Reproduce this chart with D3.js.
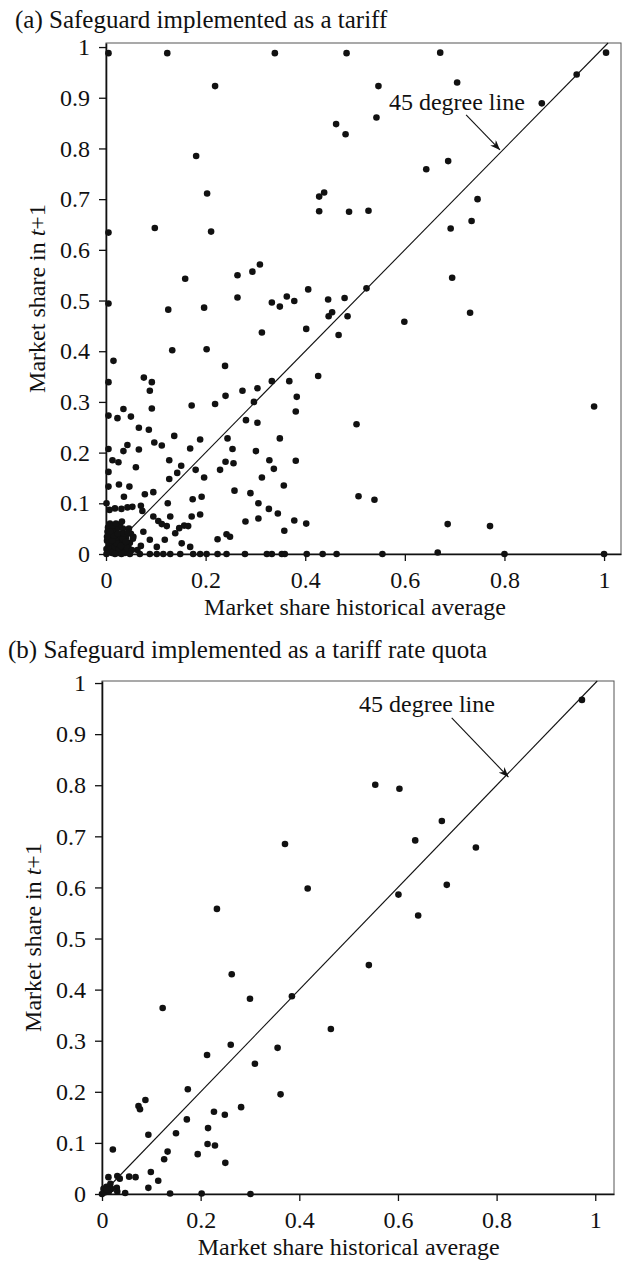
<!DOCTYPE html>
<html>
<head>
<meta charset="utf-8">
<script src="https://cdn.jsdelivr.net/npm/d3@7"></script>
<style>
  body { margin: 0; background: #fff; }
  svg { display: block; }
  svg text { font-family: "Liberation Serif", "Times New Roman", serif; }
</style>
</head>
<body>
<div id="chart"></div>
<script>
// tick values shared by both panels
const xTickValues = [0, 0.2, 0.4, 0.6, 0.8, 1];
const yTickValues = [0, 0.1, 0.2, 0.3, 0.4, 0.5, 0.6, 0.7, 0.8, 0.9, 1];

const titleA = "(a) Safeguard implemented as a tariff";
const titleB = "(b) Safeguard implemented as a tariff rate quota";
const xTitle = "Market share historical average";
const lineLabel = "45 degree line";

// (a) tariff: [historical average, share in t+1]
const tariffPoints = [
  [0.005,0.988],[0.123,0.988],[0.339,0.988],[0.483,0.988],[0.671,0.989],[1.004,0.989],
  [0.219,0.923],[0.547,0.923],[0.705,0.930],[0.945,0.946],[0.875,0.889],[0.543,0.861],
  [0.462,0.848],[0.481,0.828],[0.181,0.785],[0.643,0.759],[0.687,0.775],
  [0.203,0.711],[0.428,0.705],[0.438,0.713],[0.428,0.676],[0.488,0.675],[0.527,0.677],
  [0.746,0.700],[0.734,0.657],[0.692,0.642],[0.098,0.643],[0.211,0.636],[0.005,0.634],
  [0.159,0.543],[0.264,0.550],[0.294,0.557],[0.309,0.571],[0.406,0.522],[0.523,0.524],
  [0.695,0.545],[0.446,0.502],[0.479,0.505],[0.264,0.506],[0.333,0.496],[0.349,0.488],
  [0.363,0.508],[0.378,0.499],[0.005,0.494],[0.125,0.482],[0.197,0.486],
  [0.447,0.469],[0.454,0.477],[0.485,0.469],[0.599,0.458],[0.731,0.476],
  [0.313,0.437],[0.402,0.444],[0.467,0.432],[0.133,0.402],[0.202,0.404],
  [0.015,0.381],[0.239,0.371],[0.005,0.339],[0.076,0.348],[0.092,0.339],[0.088,0.322],
  [0.092,0.287],[0.426,0.351],[0.333,0.341],[0.368,0.341],[0.383,0.310],[0.381,0.281],
  [0.172,0.293],[0.219,0.296],[0.240,0.312],[0.274,0.322],[0.304,0.327],[0.297,0.300],
  [0.281,0.264],[0.304,0.259],[0.503,0.256],[0.980,0.291],
  [0.005,0.273],[0.023,0.268],[0.035,0.286],[0.050,0.271],[0.066,0.249],[0.086,0.245],
  [0.137,0.233],[0.097,0.220],[0.112,0.214],[0.169,0.208],[0.189,0.226],[0.244,0.228],
  [0.254,0.207],[0.349,0.228],[0.005,0.207],[0.013,0.185],[0.025,0.181],[0.035,0.203],
  [0.043,0.215],[0.066,0.206],[0.060,0.171],[0.127,0.185],[0.151,0.174],[0.143,0.160],
  [0.127,0.148],[0.180,0.166],[0.197,0.151],[0.229,0.166],[0.240,0.182],[0.256,0.179],
  [0.301,0.203],[0.328,0.185],[0.337,0.168],[0.313,0.151],[0.381,0.184],[0.357,0.135],
  [0.005,0.162],[0.005,0.133],[0.026,0.137],[0.047,0.133],[0.036,0.113],[0.078,0.118],
  [0.095,0.122],[0.258,0.125],[0.290,0.120],[0.306,0.100],[0.327,0.089],[0.345,0.080],
  [0.378,0.066],[0.402,0.060],[0.358,0.046],[0.306,0.070],[0.280,0.064],[0.242,0.039],
  [0.224,0.029],[0.249,0.034],[0.192,0.113],[0.174,0.108],[0.189,0.078],[0.172,0.074],
  [0.124,0.100],[0.507,0.114],[0.539,0.107],[0.686,0.059],[0.771,0.055],
  [0.001,0.100],[0.007,0.087],[0.018,0.090],[0.031,0.089],[0.043,0.092],[0.053,0.093],
  [0.070,0.095],[0.073,0.085],[0.095,0.074],[0.105,0.065],[0.112,0.059],[0.122,0.055],
  [0.129,0.074],[0.147,0.051],[0.157,0.056],[0.165,0.055],[0.139,0.041],[0.152,0.021],
  [0.169,0.014],[0.118,0.028],[0.102,0.014],[0.088,0.028],[0.075,0.044],[0.070,0.016],
  [0.055,0.034],[0.045,0.014],[0.063,0.008],
  [0.003,0.003],[0.008,0.006],[0.012,0.002],[0.016,0.010],[0.005,0.015],[0.010,0.020],
  [0.020,0.005],[0.024,0.014],[0.002,0.026],[0.014,0.030],[0.028,0.024],[0.032,0.008],
  [0.006,0.038],[0.018,0.042],[0.036,0.018],[0.040,0.032],[0.022,0.050],[0.004,0.052],
  [0.044,0.004],[0.030,0.040],[0.012,0.046],[0.048,0.022],[0.026,0.034],[0.008,0.060],
  [0.034,0.050],[0.050,0.040],[0.016,0.018],[0.038,0.002],[0.001,0.010],[0.020,0.026],
  [0.042,0.012],[0.010,0.034],[0.028,0.058],[0.052,0.008],[0.003,0.044],[0.046,0.050],
  [0.024,0.002],[0.034,0.030],[0.014,0.056],[0.054,0.030],
  [0.006,0.008],[0.010,0.012],[0.014,0.004],[0.018,0.014],[0.022,0.020],[0.006,0.022],
  [0.012,0.026],[0.026,0.010],[0.030,0.016],[0.002,0.034],[0.016,0.036],[0.024,0.040],
  [0.036,0.040],[0.040,0.024],[0.008,0.044],[0.020,0.060],[0.032,0.064],[0.044,0.042],
  [0.001,0.000],[0.018,0.000],[0.031,0.000],[0.048,0.000],[0.068,0.000],[0.088,0.000],
  [0.102,0.000],[0.115,0.000],[0.129,0.000],[0.149,0.000],[0.175,0.000],[0.189,0.000],
  [0.202,0.000],[0.224,0.000],[0.242,0.000],[0.279,0.000],[0.323,0.000],[0.333,0.000],
  [0.353,0.000],[0.359,0.000],[0.403,0.000],[0.435,0.000],[0.463,0.000],[0.555,0.000],
  [0.666,0.003],[0.800,0.000],[1.000,0.000]
];

// (b) tariff rate quota
const trqPoints = [
  [0.973,0.967],[0.554,0.801],[0.603,0.793],[0.689,0.730],[0.635,0.692],[0.758,0.678],
  [0.371,0.685],[0.699,0.605],[0.417,0.598],[0.601,0.586],[0.233,0.558],[0.641,0.545],
  [0.541,0.448],[0.263,0.430],[0.300,0.382],[0.385,0.387],[0.123,0.364],[0.464,0.323],
  [0.261,0.292],[0.356,0.286],[0.213,0.272],[0.310,0.255],[0.174,0.205],[0.362,0.195],
  [0.088,0.184],[0.074,0.172],[0.077,0.166],[0.282,0.170],[0.227,0.161],[0.249,0.155],
  [0.172,0.146],[0.215,0.129],[0.150,0.119],[0.094,0.116],[0.214,0.098],[0.229,0.095],
  [0.022,0.087],[0.133,0.083],[0.194,0.078],[0.126,0.068],[0.250,0.061],[0.099,0.043],
  [0.055,0.034],[0.068,0.033],[0.013,0.033],[0.031,0.035],[0.036,0.030],[0.114,0.026],
  [0.094,0.012],[0.030,0.012],[0.031,0.005],[0.047,0.002],[0.138,0.001],[0.202,0.001],
  [0.301,0.000],[0.003,0.010],[0.009,0.014],[0.017,0.020],[0.005,0.003],[0.014,0.005],
  [0.000,0.000],[0.019,0.010],[0.010,0.009]
];

const W = 623, H = 1261;
const FONT = "'Liberation Serif', 'Times New Roman', serif";

const svg = d3.select("#chart").append("svg")
    .attr("width", W)
    .attr("height", H)
    .style("background", "#fff");

svg.append("defs").append("marker")
    .attr("id", "arrow")
    .attr("viewBox", "0 0 10 8")
    .attr("refX", 10).attr("refY", 4)
    .attr("markerWidth", 10).attr("markerHeight", 8)
    .attr("markerUnits", "userSpaceOnUse")
    .attr("orient", "auto")
  .append("path")
    .attr("d", "M0,0 L10,4 L0,8 L3,4 z")
    .attr("fill", "#111");

function drawPanel(cfg) {
    const x = d3.scaleLinear().domain([0, cfg.xMax]).range([cfg.left, cfg.right]);
    const y = d3.scaleLinear().domain([0, cfg.yMax]).range([cfg.bottom, cfg.top]);
    const g = svg.append("g").style("font-family", FONT).attr("fill", "#111");

    // title
    g.append("text")
        .attr("x", cfg.titleX)
        .attr("y", cfg.titleY)
        .style("font-size", "25px")
        .text(cfg.title);

    // frame
    g.append("rect")
        .attr("x", cfg.left).attr("y", cfg.top)
        .attr("width", cfg.right - cfg.left)
        .attr("height", cfg.bottom - cfg.top)
        .attr("fill", "none")
        .attr("stroke", "#555")
        .attr("stroke-width", 1);

    // axes
    const fmt = d => d === 0 ? "0" : d === 1 ? "1" : d3.format(".1f")(d);
    const yAxis = d3.axisLeft(y)
        .tickValues(yTickValues)
        .tickSize(7).tickSizeOuter(0).tickPadding(9)
        .tickFormat(fmt);
    const gy = g.append("g")
        .attr("transform", `translate(${cfg.left},0)`)
        .call(yAxis);

    const xAxis = d3.axisBottom(x)
        .tickValues(xTickValues)
        .tickSize(7).tickSizeOuter(0).tickPadding(10)
        .tickFormat(fmt);
    const gx = g.append("g")
        .attr("transform", `translate(0,${cfg.bottom})`)
        .call(xAxis);

    [gx, gy].forEach(a => {
        a.attr("font-family", null).attr("font-size", null);
        a.select(".domain").attr("stroke", "#111").attr("stroke-width", 1.6);
        a.selectAll(".tick line").attr("stroke", "#111").attr("stroke-width", 1.3);
        a.selectAll(".tick text")
            .style("font-family", FONT)
            .style("font-size", "24px")
            .attr("fill", "#111");
    });

    // axis titles
    g.append("text")
        .attr("x", (x(0) + x(1)) / 2)
        .attr("y", cfg.bottom + 61)
        .attr("text-anchor", "middle")
        .style("font-size", "24px")
        .text(xTitle);

    const yt = g.append("text")
        .attr("transform", `translate(${cfg.yTitleX},${(cfg.top + cfg.bottom) / 2}) rotate(-90)`)
        .attr("text-anchor", "middle")
        .style("font-size", "24px");
    yt.append("tspan").text("Market share in ");
    yt.append("tspan").style("font-style", "italic").text("t");
    yt.append("tspan").text("+1");

    // 45 degree line
    g.append("line")
        .attr("x1", x(0)).attr("y1", y(0))
        .attr("x2", x(cfg.yMax)).attr("y2", y(cfg.yMax))
        .attr("stroke", "#111")
        .attr("stroke-width", 1.1);

    // points
    g.selectAll("circle")
        .data(cfg.points)
        .enter().append("circle")
        .attr("cx", d => x(d[0]))
        .attr("cy", d => y(d[1]))
        .attr("r", 3.3)
        .attr("fill", "#111");

    // label + arrow
    g.append("text")
        .attr("x", x(cfg.label[0]))
        .attr("y", y(cfg.label[1]))
        .style("font-size", "24px")
        .text(lineLabel);

    g.append("line")
        .attr("x1", x(cfg.arrow[0])).attr("y1", y(cfg.arrow[1]))
        .attr("x2", x(cfg.arrow[2])).attr("y2", y(cfg.arrow[3]))
        .attr("stroke", "#111")
        .attr("stroke-width", 1.1)
        .attr("marker-end", "url(#arrow)");
}

drawPanel({
    title: titleA, titleX: 15, titleY: 28,
    left: 106, right: 621, top: 43, bottom: 554,
    xMax: 1.034, yMax: 1.008,
    yTitleX: 45,
    points: tariffPoints,
    label: [0.568, 0.876],
    arrow: [0.723, 0.866, 0.791, 0.797]
});

drawPanel({
    title: titleB, titleX: 8, titleY: 658,
    left: 102, right: 614, top: 681, bottom: 1194,
    xMax: 1.038, yMax: 1.004,
    yTitleX: 41,
    points: trqPoints,
    label: [0.521, 0.943],
    arrow: [0.709, 0.932, 0.824, 0.816]
});
</script>
</body>
</html>
